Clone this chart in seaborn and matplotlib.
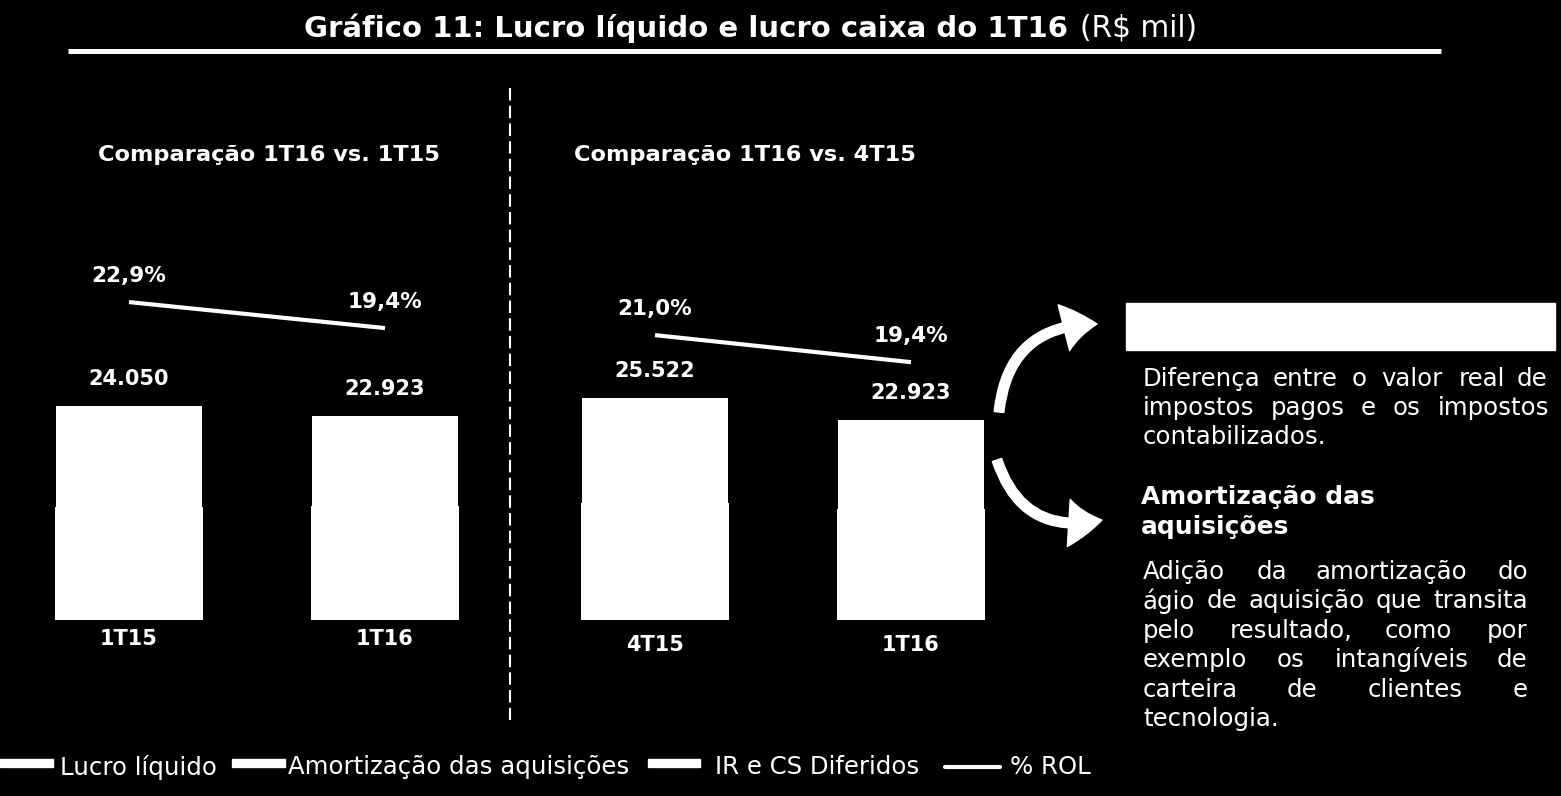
import numpy as np
import pandas as pd
import matplotlib
matplotlib.use("Agg")
import matplotlib.pyplot as plt
import seaborn as sns
from matplotlib.patches import Rectangle, FancyArrowPatch, ArrowStyle
from matplotlib.lines import Line2D
from matplotlib.textpath import TextPath
from matplotlib.font_manager import FontProperties

# ---------------- data ----------------
periods_a = ["1T15", "1T16"]
periods_b = ["4T15", "1T16"]
lucro_liquido_a = [12650, 12800]
amortizacao_a = [8200, 8100]
ir_cs_diferidos_a = [3200, 2023]
lucro_liquido_b = [13400, 12800]
amortizacao_b = [8300, 8100]
ir_cs_diferidos_b = [3822, 2023]
pct_rol_a = [22.9, 19.4]
pct_rol_b = [21.0, 19.4]

panel_titles = ["Comparação 1T16 vs. 1T15", "Comparação 1T16 vs. 4T15"]
title_bold = "Gráfico 11: Lucro líquido e lucro caixa do 1T16"
title_unit = "(R$ mil)"
legend_labels = ["Lucro líquido", "Amortização das aquisições", "IR e CS Diferidos", "% ROL"]
box1_lines = ["Diferença entre o valor real de", "impostos pagos e os impostos", "contabilizados."]
box2_head = ["Amortização das", "aquisições"]
box2_lines = ["Adição da amortização do", "ágio de aquisição que transita",
              "pelo resultado, como por", "exemplo os intangíveis de",
              "carteira de clientes e", "tecnologia."]

# ---------------- style ----------------
sns.set_theme(style="dark", rc={"axes.facecolor": "black", "figure.facecolor": "black"})
plt.rcParams["font.family"] = ["DejaVu Sans"]

W, H = 1561, 796
DPI = 100
fig = plt.figure(figsize=(W / DPI, H / DPI), dpi=DPI, facecolor="black")


def fx(x):
    return x / W


def fy(y):
    return 1 - y / H


def fmt_thousands(v):
    return f"{int(v):,}".replace(",", ".")


def panel(ax_px, centers_px, periods, ll, am, ir, pct, scale, pct_lim, tick_pad):
    left, right = ax_px
    ax = fig.add_axes([fx(left), fy(620), (right - left) / W, 540 / H])
    ax.set_facecolor("none")
    df = pd.DataFrame({"periodo": periods, "ll": ll, "am": am, "ir": ir})
    df["ll_am"] = df["ll"] + df["am"]
    df["total"] = df["ll_am"] + df["ir"]
    sns.barplot(data=df, x="periodo", y="total", color="white", width=0.57,
                saturation=1, linewidth=0, ax=ax)
    sns.barplot(data=df, x="periodo", y="ll_am", color="white", width=0.57,
                saturation=1, linewidth=0, ax=ax)
    sns.barplot(data=df, x="periodo", y="ll", color="white", width=0.577,
                saturation=1, linewidth=0, ax=ax)
    for i, v in enumerate(df["total"]):
        ax.annotate(fmt_thousands(v), (i, v), xytext=(0, 19.4), textcoords="offset points",
                    ha="center", va="center", color="white", fontweight="bold", fontsize=15)
    ax2 = ax.twinx()
    dfl = pd.DataFrame({"pos": np.arange(len(pct)), "pct": pct})
    sns.lineplot(data=dfl, x="pos", y="pct", color="white", linewidth=3, ax=ax2,
                 solid_capstyle="butt")
    for i, v in enumerate(pct):
        ax2.annotate(f"{v:.1f}%".replace(".", ","), (i, v), xytext=(0, 18.7),
                     textcoords="offset points", ha="center", va="center",
                     color="white", fontweight="bold", fontsize=15.5)
    c0, c1 = centers_px
    unit = c1 - c0
    ax.set_xlim(-(c0 - left) / unit, 1 + (right - c1) / unit)
    ax.set_ylim(0, 540 * scale)
    ax2.set_ylim(*pct_lim)
    for a in (ax, ax2):
        a.set_xlabel("")
        a.set_ylabel("")
        a.set_yticks([])
        a.grid(False)
        for s in a.spines.values():
            s.set_visible(False)
    ax2.set_facecolor("none")
    ax.tick_params(axis="x", length=0, pad=tick_pad, labelcolor="white", labelsize=15)
    for lbl in ax.get_xticklabels():
        lbl.set_fontweight("bold")
    return ax


panel((20, 500), (129, 385), periods_a, lucro_liquido_a, amortizacao_a, ir_cs_diferidos_a,
      pct_rol_a, 112.4, (-19.9, 52.8), 6.5)
panel((530, 990), (655, 911), periods_b, lucro_liquido_b, amortizacao_b, ir_cs_diferidos_b,
      pct_rol_b, 114.8, (4.14, 36.1), 10.8)

# ---------------- title ----------------
fig.text(fx(1078), fy(28), title_bold + " ", ha="right", va="center", color="white",
         fontweight="bold", fontsize=21)
fig.text(fx(1080), fy(28), title_unit, ha="left", va="center", color="white", fontsize=21.3)
fig.add_artist(Line2D([fx(68), fx(1441)], [fy(50.5), fy(50.5)], color="white", lw=3.6,
                      transform=fig.transFigure, solid_capstyle="butt"))

# panel subtitles
fig.text(fx(268.5), fy(155), panel_titles[0], ha="center", va="center", color="white",
         fontweight="bold", fontsize=16.2)
fig.text(fx(745), fy(155), panel_titles[1], ha="center", va="center", color="white",
         fontweight="bold", fontsize=16.2)

# dashed separator
fig.add_artist(Line2D([fx(510), fx(510)], [fy(88), fy(720)], color="white", lw=1.5,
                      dashes=(6, 2.5), transform=fig.transFigure))

# ---------------- right-hand notes ----------------
fig.add_artist(Rectangle((fx(1126), fy(350)), (1555 - 1126) / W, 47 / H, color="white",
                         transform=fig.transFigure))


def width_px(s, size, weight="normal"):
    fp = FontProperties(family="DejaVu Sans", weight=weight, size=size)
    tp = TextPath((0, 0), s, size=size, prop=fp)
    return tp.get_extents().width * DPI / 72


def justified(lines, x0, x1, ys, size, weight="normal"):
    for k, (line, y) in enumerate(zip(lines, ys)):
        words = line.split()
        if k == len(lines) - 1 or len(words) == 1:
            fig.text(fx(x0), fy(y), line, ha="left", va="center", color="white",
                     fontsize=size, fontweight=weight)
            continue
        ws = [width_px(w, size, weight) for w in words]
        gap = (x1 - x0 - sum(ws)) / (len(words) - 1)
        x = x0
        for w, wd in zip(words, ws):
            fig.text(fx(x), fy(y), w, ha="left", va="center", color="white",
                     fontsize=size, fontweight=weight)
            x += wd + gap


justified(box1_lines, 1143, 1545, [379, 408, 437], 17.6)
for line, y in zip(box2_head, [497, 527]):
    fig.text(fx(1141), fy(y), line, ha="left", va="center", color="white",
             fontsize=17.9, fontweight="bold")
justified(box2_lines, 1143, 1525, [572, 601, 631, 660, 690, 719], 17.6)

# curved arrows
style = ArrowStyle.Simple(head_length=24, head_width=34, tail_width=7)
fig.add_artist(FancyArrowPatch((fx(999), fy(412)), (fx(1097), fy(324)),
                               connectionstyle="arc3,rad=-0.45", arrowstyle=style,
                               color="white", transform=fig.transFigure,
                               shrinkA=0, shrinkB=0))
fig.add_artist(FancyArrowPatch((fx(997), fy(460)), (fx(1102), fy(520)),
                               connectionstyle="arc3,rad=0.45", arrowstyle=style,
                               color="white", transform=fig.transFigure,
                               shrinkA=0, shrinkB=0))

# ---------------- legend ----------------
for (a, b) in [(0, 53), (232, 285), (648, 700)]:
    fig.add_artist(Rectangle((fx(a), fy(767)), (b - a) / W, 8 / H, color="white",
                             transform=fig.transFigure))
fig.add_artist(Line2D([fx(945), fx(1000)], [fy(767), fy(767)], color="white", lw=3,
                      transform=fig.transFigure))
for lbl, x in zip(legend_labels, [60, 288, 715, 1010]):
    fig.text(fx(x), fy(767), lbl, ha="left", va="center", color="white", fontsize=17.6)

fig.savefig("out.png", dpi=DPI, facecolor="black")
